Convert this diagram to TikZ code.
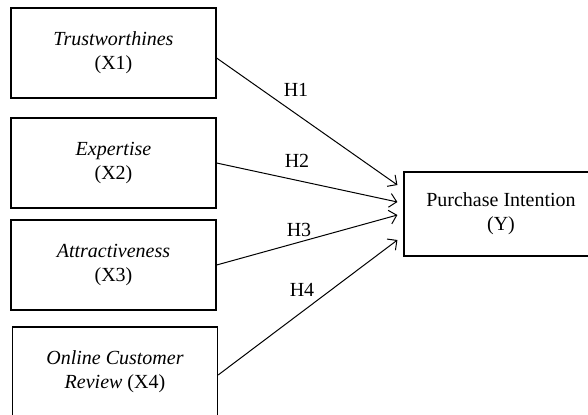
\documentclass[tikz,border=0pt]{standalone}
\usepackage{fontspec}
\setmainfont{Liberation Serif}
\usetikzlibrary{arrows.meta}

\begin{document}
\begin{tikzpicture}[x=0.5pt,y=-0.5pt,
  var/.style={draw,line width=0.6pt,minimum width=102.5pt,minimum height=45pt,align=center,inner sep=2pt},
  hyp/.style={-{Straight Barb[length=3.5pt,width=7pt]},line width=0.5pt}]

\useasboundingbox (0,0) rectangle (588,414);

\node[var] (x1) at (113.5,53) {\textit{Trustworthines}\\(X1)};
\node[var] (x2) at (113.5,163) {\textit{Expertise}\\(X2)};
\node[var] (x3) at (113.5,265) {\textit{Attractiveness}\\(X3)};
\node[var] (x4) at (115,372) {\textit{Online Customer}\\\textit{Review} (X4)};

\node[var,minimum width=97pt,minimum height=42pt] (y) at (501,214) {Purchase Intention\\(Y)};

\coordinate (t1) at ([shift={(-6,-29)}]y.west);
\coordinate (t2) at ([shift={(-6,-12)}]y.west);
\coordinate (t3) at ([shift={(-6,1)}]y.west);
\coordinate (t4) at ([shift={(-6,26)}]y.west);

\draw[hyp] ([yshift=-2.5pt]x1.east) -- (t1);
\draw[hyp] (x2.east) -- (t2);
\draw[hyp] (x3.east) -- (t3);
\draw[hyp] ([yshift=-1.5pt]x4.east) -- (t4);

\node (h1) at (296,90) {H1};
\node (h2) at (297,161) {H2};
\node (h3) at (299,230) {H3};
\node (h4) at (302,290) {H4};

\end{tikzpicture}
\end{document}
